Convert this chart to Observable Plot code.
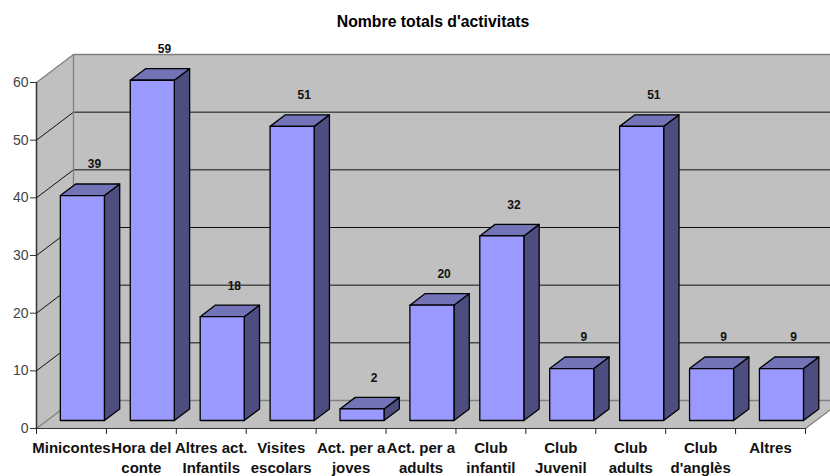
<!DOCTYPE html>
<html>
<head>
<meta charset="utf-8">
<script src="https://cdn.jsdelivr.net/npm/d3@7"></script>
<script src="https://cdn.jsdelivr.net/npm/@observablehq/plot@0.6"></script>
<style>
  html, body { margin: 0; padding: 0; background: #fff; }
  #wrap { position: relative; width: 830px; height: 476px; overflow: hidden; }
  #title { position: absolute; top: 13px; left: 283px; width: 300px; text-align: center;
    font: bold 15.8px "Liberation Sans", sans-serif; line-height: 18px; color: #000; }
  svg { display: block; }
</style>
</head>
<body>
<div id="wrap"><div id="title"></div></div>
<script>
const titleText = "Nombre totals d'activitats";
const categories = ["Minicontes", "Hora del\nconte", "Altres act.\nInfantils", "Visites\nescolars", "Act. per a\njoves", "Act. per a\nadults", "Club\ninfantil", "Club\nJuvenil", "Club\nadults", "Club\nd'anglès", "Altres"];
const values = [39, 59, 18, 51, 2, 20, 32, 9, 51, 9, 9];
const yTicks = [0, 10, 20, 30, 40, 50, 60];

// Oblique projection of the 3D box, in scale units
const depthX = 0.529, depthY = 4.855;
const project = (u, v, d) => ({x: u + depthX * d, y: v + depthY * d});
const poly = (id, pts) => [...pts, pts[0]].map(([u, v, d]) => ({id, ...project(u, v, d)}));
const n = categories.length;
const wallEnd = n + 1;

const barGap = 0.19, barW = 0.63, dFront = 0.286, dBack = 0.70;
const fronts = [], tops = [], sides = [];
values.forEach((val, i) => {
  const a = i + barGap, b = a + barW;
  fronts.push(...poly(i, [[a, 0, dFront], [b, 0, dFront], [b, val, dFront], [a, val, dFront]]));
  tops.push(...poly(i, [[a, val, dFront], [b, val, dFront], [b, val, dBack], [a, val, dBack]]));
  sides.push(...poly(i, [[b, 0, dFront], [b, val, dFront], [b, val, dBack], [b, 0, dBack]]));
});

const wall = poly("w", [[0, 0, 1], [wallEnd, 0, 1], [wallEnd, 60, 1], [0, 60, 1]]);
const sideWall = poly("s", [[0, 0, 0], [0, 60, 0], [0, 60, 1], [0, 0, 1]]);
const floor = poly("f", [[0, 0, 0], [n, 0, 0], [n, 0, 1], [0, 0, 1]]);
const gridLines = yTicks.slice(1, -1).flatMap(v => [[0, v, 0], [0, v, 1], [wallEnd, v, 1]].map(([u, w, d]) => ({id: v, ...project(u, w, d)})));
const outerLines = [0, 60].flatMap(v => [[0, v, 0], [0, v, 1], [wallEnd, v, 1]].map(([u, w, d]) => ({id: v, ...project(u, w, d)})));

const font = '"Liberation Sans", sans-serif';
document.getElementById("title").textContent = titleText;

const plot = Plot.plot({
  width: 830, height: 476,
  marginLeft: 36, marginRight: 25, marginTop: 82, marginBottom: 48,
  style: {background: "#fff", fontFamily: font},
  x: {domain: [0, n], axis: null},
  y: {domain: [0, 60], axis: null},
  marks: [
    Plot.line(wall, {x: "x", y: "y", z: "id", fill: "#c0c0c0", stroke: "none"}),
    Plot.line(sideWall, {x: "x", y: "y", z: "id", fill: "#c0c0c0", stroke: "none"}),
    Plot.line(floor, {x: "x", y: "y", z: "id", fill: "#c0c0c0", stroke: "none"}),
    Plot.line(gridLines, {x: "x", y: "y", z: "id", stroke: "#111", strokeWidth: 1}),
    Plot.line(outerLines, {x: "x", y: "y", z: "id", stroke: "#808080", strokeWidth: 1.3}),
    Plot.line([project(0, 0, 1), project(0, 60, 1)], {x: "x", y: "y", stroke: "#808080", strokeWidth: 1.3}),
    Plot.line([project(n, 0, 0), project(n, 0, 1)], {x: "x", y: "y", stroke: "#808080", strokeWidth: 1.3}),
    Plot.line(sides, {x: "x", y: "y", z: "id", fill: "#4d4d80", stroke: "#000", strokeWidth: 1.3, strokeLinejoin: "round"}),
    Plot.line(tops, {x: "x", y: "y", z: "id", fill: "#7373b8", stroke: "#000", strokeWidth: 1.3, strokeLinejoin: "round"}),
    Plot.line(fronts, {x: "x", y: "y", z: "id", fill: "#9999ff", stroke: "#000", strokeWidth: 1.3, strokeLinejoin: "round"}),
    Plot.ruleY([0], {stroke: "#333", strokeWidth: 1.2}),
    Plot.ruleX([0], {stroke: "#333", strokeWidth: 1.5}),
    Plot.axisY({ticks: yTicks, tickSize: 6, tickPadding: 2, fontSize: 14, color: "#444", label: null, stroke: "#333"}),
    Plot.axisX({ticks: d3.range(n + 1), tickSize: 6, tickFormat: () => "", label: null, stroke: "#222"}),
    Plot.text(values, {
      x: (d, i) => i + 0.5, y: 0, text: (d, i) => categories[i],
      lineAnchor: "top", dy: 11, lineHeight: 1.3,
      fontSize: 15, fontWeight: "bold", fill: "#111"
    }),
    Plot.text(values, {
      x: (d, i) => i + 0.5 + 0.33, y: d => d, text: d => String(d),
      dy: -39, fontSize: 12, fontWeight: "bold", fill: "#111"
    })
  ]
});
document.getElementById("wrap").appendChild(plot);
</script>
</body>
</html>
